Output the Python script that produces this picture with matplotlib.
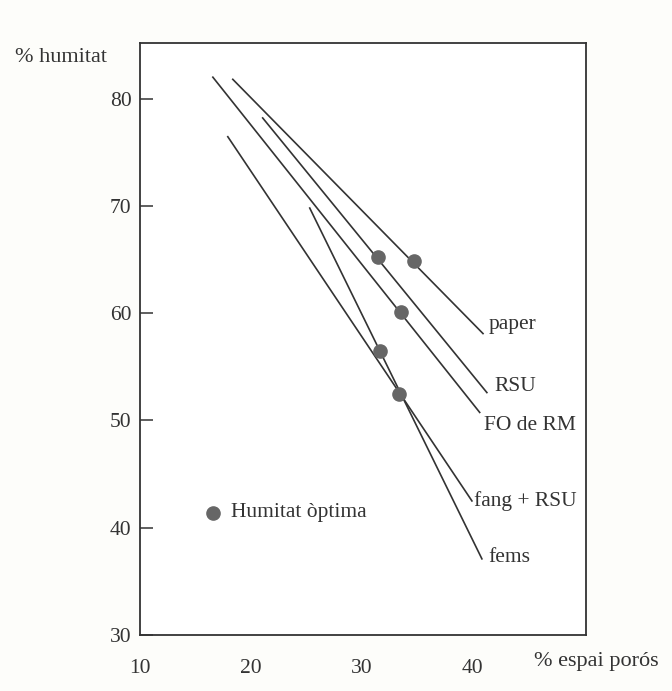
import matplotlib.pyplot as plt

plt.rcParams['font.family'] = ['Liberation Serif', 'DejaVu Serif']

# line endpoints (start, end) and the optimum point for each material
materials = ['paper', 'RSU', 'FO de RM', 'fang + RSU', 'fems']
x_start = [18.4, 21.1, 16.6, 17.95, 25.35]
y_start = [81.8, 78.2, 82.0, 76.45, 69.8]
x_end = [41.0, 41.35, 40.7, 40.0, 40.9]
y_end = [58.1, 52.6, 50.75, 42.5, 37.1]
opt_x = [34.75, 31.5, 33.6, 33.4, 31.7]
opt_y = [64.9, 65.2, 60.1, 52.5, 56.45]
label_x = [41.5, 42.05, 41.1, 40.2, 41.45]
label_y = [58.9, 53.2, 49.5, 42.5, 37.2]

x_ticks = [10, 20, 30, 40]
y_ticks = [30, 40, 50, 60, 70, 80]

ink = '#333333'
dot = '#666666'

fig = plt.figure(figsize=(6.72, 6.91), dpi=100, facecolor='#fdfdfa')
ax = fig.add_axes([0.208, 0.081, 0.664, 0.857])
ax.set_facecolor('white')

for xs, ys, xe, ye in zip(x_start, y_start, x_end, y_end):
    ax.plot([xs, xe], [ys, ye], color=ink, lw=1.2)
ax.plot(opt_x, opt_y, 'o', color=dot, ms=9.5, zorder=3)

for name, lx, ly in zip(materials, label_x, label_y):
    ax.text(lx, ly, name, fontsize=15.5, color=ink, va='center', ha='left')

# legend
ax.plot([16.6], [41.4], 'o', color=dot, ms=9.5)
ax.text(18.2, 41.4, 'Humitat òptima', fontsize=15.5, color=ink, va='center', ha='left')

ax.set_xlim(10, 50.3)
ax.set_ylim(30, 85.2)
ax.set_xticks(x_ticks)
ax.set_yticks(y_ticks)
ax.tick_params(axis='y', direction='in', length=9, width=1.1, color=ink,
               labelsize=15.5, labelcolor=ink, pad=6)
ax.tick_params(axis='x', length=0, labelsize=15.5, labelcolor=ink, pad=17)
for s in ax.spines.values():
    s.set_color(ink)
    s.set_linewidth(1.3)

fig.text(0.022, 0.9175, '% humitat', fontsize=16, color=ink, va='center', ha='left')
fig.text(0.795, 0.042, '% espai porós', fontsize=16, color=ink, va='center', ha='left')

fig.savefig('out.png', dpi=100, facecolor=fig.get_facecolor())
